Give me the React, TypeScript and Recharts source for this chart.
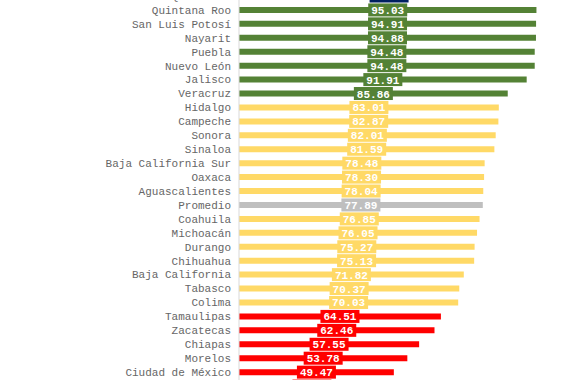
import { BarChart, Bar, XAxis, YAxis, Cell, LabelList } from "recharts";

// orden de arriba hacia abajo (la primera y la última fila quedan cortadas en la imagen)
const estados = [
  "Querétaro",
  "Quintana Roo",
  "San Luis Potosí",
  "Nayarit",
  "Puebla",
  "Nuevo León",
  "Jalisco",
  "Veracruz",
  "Hidalgo",
  "Campeche",
  "Sonora",
  "Sinaloa",
  "Baja California Sur",
  "Oaxaca",
  "Aguascalientes",
  "Promedio",
  "Coahuila",
  "Michoacán",
  "Durango",
  "Chihuahua",
  "Baja California",
  "Tabasco",
  "Colima",
  "Tamaulipas",
  "Zacatecas",
  "Chiapas",
  "Morelos",
  "Ciudad de México",
  "Guerrero",
];

const valores = [
  95.9, 95.03, 94.91, 94.88, 94.48, 94.48, 91.91, 85.86, 83.01, 82.87, 82.01,
  81.59, 78.48, 78.3, 78.04, 77.89, 76.85, 76.05, 75.27, 75.13, 71.82, 70.37,
  70.03, 64.51, 62.46, 57.55, 53.78, 49.47, 46.6,
];

const grupos = [
  "primero",
  "alto", "alto", "alto", "alto", "alto", "alto", "alto",
  "medio", "medio", "medio", "medio", "medio", "medio", "medio",
  "promedio",
  "medio", "medio", "medio", "medio", "medio", "medio", "medio",
  "bajo", "bajo", "bajo", "bajo", "bajo", "bajo",
];

const colores: Record<string, string> = {
  primero: "#002060",
  alto: "#548235",
  medio: "#FFD966",
  promedio: "#BFBFBF",
  bajo: "#FF0000",
};

const data = estados.map((estado, i) => ({
  estado,
  valor: valores[i],
  grupo: grupos[i],
}));

const mono = "'Liberation Mono', 'Courier New', monospace";

const renderLabel = (props: any) => {
  const vb = props.viewBox && props.viewBox.width !== undefined ? props.viewBox : props;
  const x = Number(vb.x);
  const y = Number(vb.y);
  const w = Number(vb.width);
  const h = Number(vb.height);
  const idx = props.index ?? valores.indexOf(Number(props.value));
  const color = colores[grupos[idx]] || "#999";
  const txt = Number(props.value).toFixed(2);
  const bw = txt.length * 6.6 + 6;
  const bh = 13;
  const cx = x + w / 2;
  const cy = y + h / 2;
  return (
    <g>
      <rect x={cx - bw / 2} y={cy - bh / 2} width={bw} height={bh} fill={color} />
      <text
        x={cx}
        y={cy}
        dy={4}
        textAnchor="middle"
        fill="#ffffff"
        fontFamily={mono}
        fontSize={11}
        fontWeight="bold"
      >
        {txt}
      </text>
    </g>
  );
};

export default function App() {
  return (
    <div
      style={{
        position: "fixed",
        top: 0,
        left: 0,
        width: 570,
        height: 380,
        overflow: "hidden",
        background: "#fff",
      }}
    >
      <div style={{ position: "absolute", top: -11, left: 0 }}>
        <BarChart
          width={570}
          height={404}
          data={data}
          layout="vertical"
          margin={{ top: 0, right: 18, bottom: 0, left: 0 }}
          barCategoryGap={0}
        >
          <XAxis type="number" domain={[0, 100]} hide />
          <YAxis
            type="category"
            dataKey="estado"
            width={239}
            interval={0}
            tickLine={false}
            axisLine={{ stroke: "#D9D9D9" }}
            tick={{ fill: "#666666", fontSize: 11, fontFamily: mono }}
          />
          <Bar dataKey="valor" barSize={6} isAnimationActive={false}>
            {data.map((d, i) => (
              <Cell key={i} fill={colores[d.grupo]} />
            ))}
            <LabelList dataKey="valor" content={renderLabel} />
          </Bar>
        </BarChart>
      </div>
    </div>
  );
}
